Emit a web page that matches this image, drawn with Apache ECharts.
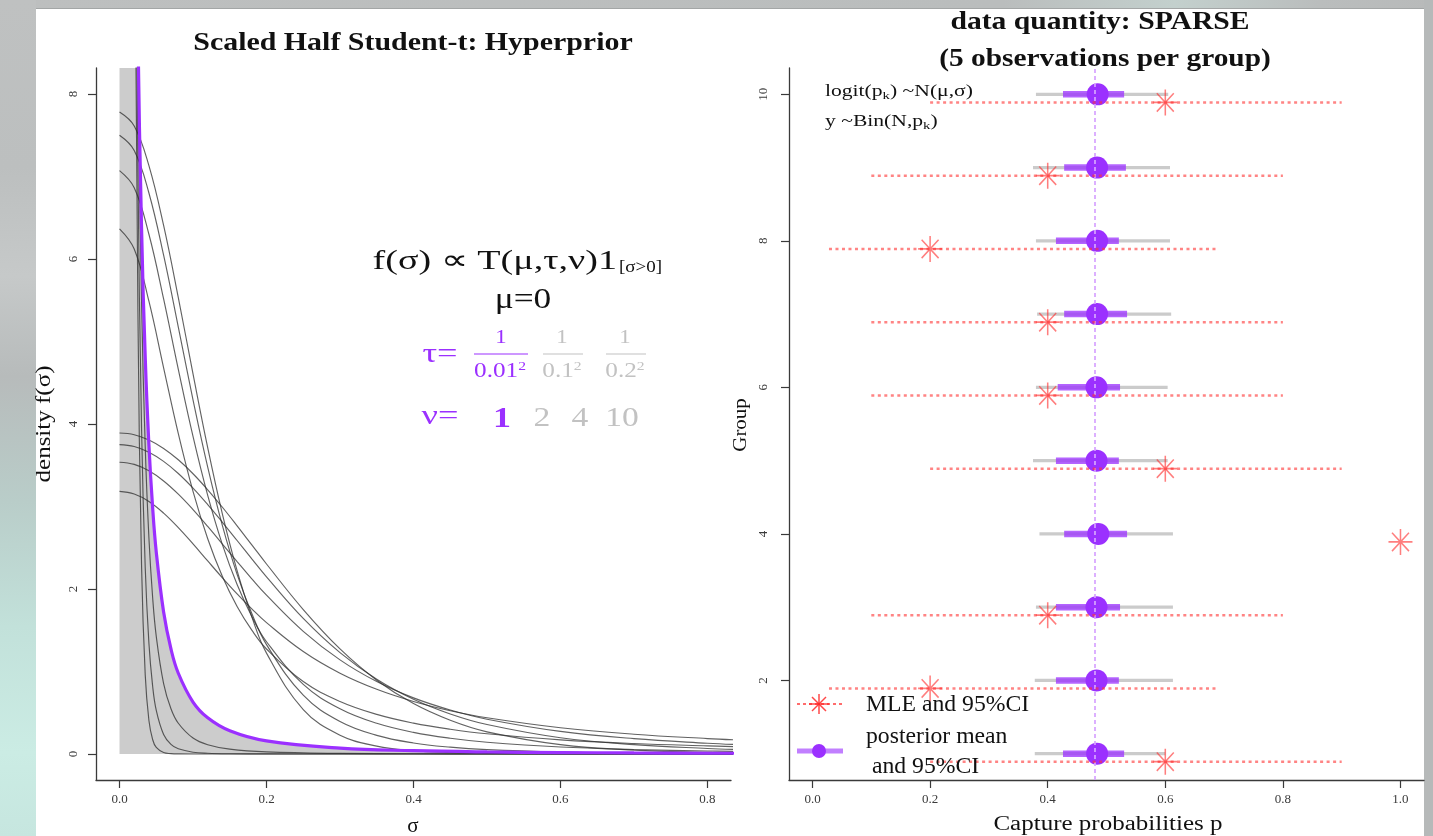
<!DOCTYPE html>
<html>
<head>
<meta charset="utf-8">
<script src="https://cdn.jsdelivr.net/npm/echarts@6/dist/echarts.min.js"></script>
<style>
html,body{margin:0;padding:0;width:1433px;height:836px;overflow:hidden;background:#b9bcbc;}
#bgTop{position:absolute;left:0;top:0;width:1433px;height:9px;background:linear-gradient(to right,#bdbfbf 0%,#babdbd 70%,#c3d0cd 82%,#babdbd 92%,#b8baba 100%);border-bottom:1px solid #a3a6a6;box-sizing:border-box;}
#bgLeft{position:absolute;left:0;top:0;width:36px;height:836px;background:linear-gradient(to bottom,#bfc1c1 0%,#bcbfbf 20%,#c6c9c9 33%,#b7bbbb 45%,#b9cdc9 60%,#c2e1da 75%,#cbece4 90%,#c6e6df 100%);}
#bgRight{position:absolute;left:1424px;top:0;width:9px;height:836px;background:#b6b9b9;}
#panel{position:absolute;left:36px;top:9px;width:1388px;height:827px;background:#ffffff;}
#chart{position:absolute;left:0;top:0;width:1433px;height:836px;}
</style>
</head>
<body>
<div id="bgTop"></div><div id="bgLeft"></div><div id="bgRight"></div><div id="panel"></div>
<div id="chart"></div>
<script>
// ---------------- LEFT PANEL DATA (half Student-t densities) ----------------
const sigmaWide = [0, 0.02, 0.04, 0.06, 0.08, 0.1, 0.12, 0.14, 0.16, 0.18, 0.2, 0.25, 0.3, 0.35, 0.4, 0.45, 0.5, 0.6, 0.7, 0.8, 0.84];
const densNu1Sd02  = [3.183, 3.151, 3.061, 2.920, 2.744, 2.546, 2.340, 2.136, 1.941, 1.759, 1.592, 1.242, 0.979, 0.784, 0.637, 0.525, 0.439, 0.318, 0.240, 0.187, 0.171];
const densNu2Sd02  = [3.536, 3.510, 3.433, 3.310, 3.150, 2.963, 2.759, 2.545, 2.332, 2.123, 1.925, 1.487, 1.141, 0.878, 0.680, 0.533, 0.422, 0.274, 0.186, 0.131, 0.115];
const densNu4Sd02  = [3.750, 3.727, 3.658, 3.547, 3.400, 3.223, 3.023, 2.809, 2.588, 2.365, 2.147, 1.644, 1.229, 0.905, 0.663, 0.485, 0.357, 0.197, 0.113, 0.067, 0.055];
const densNu10Sd02 = [3.891, 3.870, 3.806, 3.704, 3.566, 3.397, 3.203, 2.991, 2.766, 2.535, 2.303, 1.751, 1.274, 0.895, 0.611, 0.409, 0.269, 0.114, 0.048, 0.020, 0.015];
const densNu1Sd01  = [6.366, 6.121, 5.488, 4.681, 3.882, 3.183, 2.609, 2.151, 1.788, 1.501, 1.273, 0.878, 0.637, 0.480, 0.374, 0.300, 0.245, 0.172, 0.127, 0.098, 0.089];
const densNu2Sd01  = [7.071, 6.864, 6.300, 5.516, 4.662, 3.849, 3.135, 2.538, 2.054, 1.667, 1.361, 0.844, 0.548, 0.372, 0.262, 0.191, 0.143, 0.085, 0.055, 0.037, 0.032];
const densNu4Sd01  = [7.500, 7.316, 6.800, 6.046, 5.175, 4.293, 3.477, 2.768, 2.177, 1.702, 1.326, 0.713, 0.394, 0.226, 0.134, 0.083, 0.053, 0.024, 0.012, 0.006, 0.005];
const densNu10Sd01 = [7.782, 7.613, 7.132, 6.406, 5.532, 4.607, 3.713, 2.908, 2.222, 1.662, 1.223, 0.539, 0.228, 0.096, 0.041, 0.018, 0.008, 0.002, 0, 0, 0];

const sigmaNarrow = [0, 0.01, 0.015, 0.02, 0.025, 0.03, 0.035, 0.04, 0.045, 0.05, 0.06, 0.07, 0.08, 0.1, 0.12, 0.15, 0.2, 0.3, 0.4, 0.5, 0.6, 0.7, 0.84];
const densNu1Sd001  = [63.66, 31.83, 19.59, 12.73, 8.781, 6.366, 4.805, 3.745, 2.996, 2.448, 1.721, 1.273, 0.979, 0.630, 0.439, 0.282, 0.159, 0.071, 0.040, 0.025, 0.018, 0.013, 0.009];
const densNu2Sd001  = [70.71, 38.49, 22.83, 13.61, 8.440, 5.481, 3.718, 2.619, 1.906, 1.426, 0.854, 0.549, 0.373, 0.194, 0.113, 0.059, 0.025, 0.007, 0.003, 0.002, 0.001, 0.001, 0];
const densNu4Sd001  = [75.00, 42.93, 24.58, 13.26, 7.134, 3.939, 2.255, 1.342, 0.829, 0.530, 0.237, 0.117, 0.063, 0.022, 0.009, 0.003, 0.001, 0, 0, 0, 0, 0, 0];
const densNu10Sd001 = [77.82, 46.07, 25.49, 12.23, 5.389, 2.280, 0.956, 0.406, 0.177, 0.079, 0.018, 0.005, 0.001, 0, 0, 0, 0, 0, 0, 0, 0, 0, 0];

const sigmaTicks = [0, 0.2, 0.4, 0.6, 0.8];
const densityTicks = [0, 2, 4, 6, 8];

// ---------------- RIGHT PANEL DATA ----------------
const groups     = [1, 2, 3, 4, 5, 6, 7, 8, 9, 10];
const postMean   = [0.484, 0.483, 0.483, 0.486, 0.483, 0.483, 0.484, 0.484, 0.484, 0.485];
const postCiLow  = [0.426, 0.414, 0.414, 0.428, 0.414, 0.417, 0.428, 0.414, 0.428, 0.426];
const postCiHigh = [0.530, 0.521, 0.523, 0.535, 0.521, 0.523, 0.535, 0.521, 0.533, 0.530];
const outerLow   = [0.378, 0.378, 0.380, 0.386, 0.375, 0.380, 0.382, 0.380, 0.375, 0.380];
const outerHigh  = [0.600, 0.613, 0.613, 0.613, 0.604, 0.604, 0.610, 0.608, 0.608, 0.605];
const mle        = [0.6, 0.2, 0.4, 1.0, 0.6, 0.4, 0.4, 0.2, 0.4, 0.6];
const mleLow     = [0.2, 0.028, 0.1, null, 0.2, 0.1, 0.1, 0.028, 0.1, 0.2];
const mleHigh    = [0.9, 0.687, 0.8, null, 0.9, 0.8, 0.8, 0.687, 0.8, 0.9];
const grandMean  = 0.484;
const probTicks  = [0, 0.2, 0.4, 0.6, 0.8, 1.0];
const groupTicks = [2, 4, 6, 8, 10];

// ---------------- styling ----------------
const FONT = '"Liberation Serif","Times New Roman",Times,serif';
const PURPLE = '#9B30FF';
const AXIS = '#3a3a3a';
const MLE_OFFSET = 0.11;

const zip = (xs, ys) => xs.map((x, i) => [x, ys[i]]);

function axisCommon(ticks, fmt, rotate, margin) {
  return {
    type: 'value',
    axisLine: { show: true, onZero: false, lineStyle: { color: AXIS, width: 1.3 } },
    axisTick: { show: true, length: 8, customValues: ticks, lineStyle: { color: AXIS, width: 1.2 } },
    axisLabel: { customValues: ticks, formatter: fmt, rotate: rotate, margin: margin,
                 fontFamily: FONT, fontSize: 13, color: '#3a3a3a' },
    splitLine: { show: false }
  };
}

function grayCurve(xs, ys) {
  return { type: 'line', xAxisIndex: 0, yAxisIndex: 0, data: zip(xs, ys), smooth: 0.4,
           symbol: 'none', silent: true, z: 3,
           lineStyle: { color: 'rgba(45,45,45,0.75)', width: 1.15 } };
}

function T(x, y, text, o) {
  o = o || {};
  return {
    type: 'text', x: x, y: y, rotation: o.rot || 0, scaleX: o.sx || 1, z: 100, silent: true,
    style: {
      text: text, fill: o.color || '#111',
      fontSize: o.size || 18, fontFamily: FONT, fontWeight: o.bold ? 'bold' : 'normal',
      textAlign: o.align || 'center', align: o.align || 'center',
      textVerticalAlign: 'middle', verticalAlign: 'middle',
      rich: o.rich
    }
  };
}
function L(x1, y1, x2, y2, stroke, w, dash) {
  return { type: 'line', z: 100, silent: true, shape: { x1, y1, x2, y2 },
           style: { stroke: stroke, lineWidth: w, lineDash: dash || null } };
}

const starPath = 'path://M0,-10L0,10M-10,0L10,0M-7.07,-7.07L7.07,7.07M-7.07,7.07L7.07,-7.07';

const chart = echarts.init(document.getElementById('chart'), null, { renderer: 'canvas' });

const rangeSeries = (lo, hi, yShift, style, name, z) => ({
  type: 'custom', name: name, xAxisIndex: 1, yAxisIndex: 1, z: z, silent: true,
  data: groups.map((g, i) => [lo[i], hi[i], g + yShift]).filter(d => d[0] != null),
  encode: { x: [0, 1], y: 2 },
  renderItem: (params, api) => {
    const a = api.coord([api.value(0), api.value(2)]);
    const b = api.coord([api.value(1), api.value(2)]);
    return { type: 'line', shape: { x1: a[0], y1: a[1], x2: b[0], y2: b[1] }, style: style };
  }
});

const GREYTXT = '#c2c2c2';
const subRich = (size) => ({
  a: { fontSize: size, fontFamily: FONT, fill: '#111' },
  k: { fontSize: Math.round(size * 0.68), fontFamily: FONT, fill: '#111', verticalAlign: 'bottom', padding: [8, 0, 0, 0] }
});
const supRich = (size, color) => ({
  a: { fontSize: size, fontFamily: FONT, fill: color },
  s: { fontSize: Math.round(size * 0.6), fontFamily: FONT, fill: color, verticalAlign: 'top', padding: [0, 0, 8, 0] }
});

const option = {
  animation: false,
  backgroundColor: 'transparent',
  grid: [
    { left: 96, top: 68, width: 635, height: 712 },
    { left: 789, top: 68, width: 635, height: 712 }
  ],
  xAxis: [
    Object.assign(axisCommon(sigmaTicks, v => v.toFixed(1), 0, 13), { gridIndex: 0, min: -0.032, max: 0.832 }),
    Object.assign(axisCommon(probTicks, v => v.toFixed(1), 0, 13), { gridIndex: 1, min: -0.04, max: 1.04 })
  ],
  yAxis: [
    Object.assign(axisCommon(densityTicks, v => String(v), 90, 16), { gridIndex: 0, min: -0.315, max: 8.315 }),
    Object.assign(axisCommon(groupTicks, v => String(v), 90, 19), { gridIndex: 1, min: 0.64, max: 10.36 })
  ],
  series: [
    // grey area under the tau=1/0.01^2, nu=1 density
    { type: 'line', xAxisIndex: 0, yAxisIndex: 0, data: zip(sigmaNarrow, densNu1Sd001), smooth: 0.4,
      symbol: 'none', silent: true, z: 1, lineStyle: { width: 0, color: '#cccccc' },
      areaStyle: { color: '#cccccc', opacity: 1 } },
    grayCurve(sigmaWide, densNu1Sd02), grayCurve(sigmaWide, densNu2Sd02),
    grayCurve(sigmaWide, densNu4Sd02), grayCurve(sigmaWide, densNu10Sd02),
    grayCurve(sigmaWide, densNu1Sd01), grayCurve(sigmaWide, densNu2Sd01),
    grayCurve(sigmaWide, densNu4Sd01), grayCurve(sigmaWide, densNu10Sd01),
    grayCurve(sigmaNarrow, densNu2Sd001), grayCurve(sigmaNarrow, densNu4Sd001),
    grayCurve(sigmaNarrow, densNu10Sd001),
    { type: 'line', xAxisIndex: 0, yAxisIndex: 0, data: zip(sigmaNarrow, densNu1Sd001), smooth: 0.4,
      symbol: 'none', silent: true, z: 5, lineStyle: { color: PURPLE, width: 3.2 } },

    // right panel
    { type: 'scatter', xAxisIndex: 1, yAxisIndex: 1, data: [], silent: true, z: 1,
      markLine: { silent: true, symbol: 'none', label: { show: false },
                  lineStyle: { color: '#d6a3ff', width: 1.7, type: [4, 3] },
                  data: [{ xAxis: grandMean }] } },
    rangeSeries(outerLow, outerHigh, 0, { stroke: '#cbcbcb', lineWidth: 3.2 }, 'outer', 2),
    rangeSeries(postCiLow, postCiHigh, 0, { stroke: 'rgba(155,48,255,0.75)', lineWidth: 6.5 }, 'post', 3),
    { type: 'scatter', xAxisIndex: 1, yAxisIndex: 1, z: 4, silent: true,
      data: zip(postMean, groups), symbol: 'circle', symbolSize: 22,
      itemStyle: { color: PURPLE, opacity: 1 } },
    rangeSeries(mleLow, mleHigh, -MLE_OFFSET,
      { stroke: 'rgba(255,50,50,0.6)', lineWidth: 2.4, lineDash: [3, 3.5] }, 'mleci', 5),
    { type: 'scatter', xAxisIndex: 1, yAxisIndex: 1, z: 6, silent: true,
      data: groups.map((g, i) => [mle[i], g - MLE_OFFSET]), symbol: starPath, symbolSize: [24, 26],
      itemStyle: { color: 'rgba(0,0,0,0)', borderColor: 'rgba(255,40,40,0.75)', borderWidth: 1.6 } }
  ],
  graphic: [
    // titles
    T(413, 43, 'Scaled Half Student-t: Hyperprior', { size: 26, bold: true, sx: 1.15 }),
    T(1100, 22, 'data quantity: SPARSE', { size: 26, bold: true, sx: 1.14 }),
    T(1105, 59, '(5 observations per group)', { size: 26, bold: true, sx: 1.13 }),
    // axis titles
    T(413, 826, 'σ', { size: 21 }),
    T(45, 424, 'density f(σ)', { size: 20, rot: Math.PI / 2, sx: 1.25 }),
    T(1108, 825, 'Capture probabilities p', { size: 20, sx: 1.25 }),
    T(741, 425, 'Group', { size: 19, rot: Math.PI / 2, sx: 1.1 }),
    // formula annotation
    T(617, 262, 'f(σ) ∝ T(μ,τ,ν)1', { size: 28, align: 'right', sx: 1.36 }),
    T(619, 268, '[σ>0]', { size: 17, align: 'left', sx: 1.12 }),
    T(523, 300, 'μ=0', { size: 29, sx: 1.22 }),
    T(440, 355, 'τ=', { size: 28, color: PURPLE, sx: 1.3 }),
    T(501, 338, '1', { size: 19, color: PURPLE, sx: 1.2 }),
    L(474, 354, 528, 354, PURPLE, 1.2),
    T(500, 371, '{a|0.01}{s|2}', { size: 21, color: PURPLE, sx: 1.2, rich: supRich(21, PURPLE) }),
    T(562, 338, '1', { size: 19, color: GREYTXT, sx: 1.2 }),
    L(543, 354, 583, 354, GREYTXT, 1.2),
    T(562, 371, '{a|0.1}{s|2}', { size: 21, color: GREYTXT, sx: 1.2, rich: supRich(21, GREYTXT) }),
    T(625, 338, '1', { size: 19, color: GREYTXT, sx: 1.2 }),
    L(606, 354, 646, 354, GREYTXT, 1.2),
    T(625, 371, '{a|0.2}{s|2}', { size: 21, color: GREYTXT, sx: 1.2, rich: supRich(21, GREYTXT) }),
    T(440, 417, 'ν=', { size: 28, color: PURPLE, sx: 1.3 }),
    T(502, 419, '1', { size: 30, color: PURPLE, bold: true, sx: 1.2 }),
    T(542, 419, '2', { size: 28, color: GREYTXT, sx: 1.2 }),
    T(580, 419, '4', { size: 28, color: GREYTXT, sx: 1.2 }),
    T(622, 419, '10', { size: 28, color: GREYTXT, sx: 1.2 }),
    // model text
    T(825, 92, '{a|logit(p}{k|k}{a|) ~N(μ,σ)}', { align: 'left', sx: 1.35, rich: subRich(16) }),
    T(825, 122, '{a|y ~Bin(N,p}{k|k}{a|)}', { align: 'left', sx: 1.35, rich: subRich(16) }),
    // legend
    L(797, 704, 843, 704, 'rgba(255,45,45,0.7)', 2.2, [3, 3]),
    L(819, 694, 819, 714, 'rgba(255,40,40,0.85)', 1.5),
    L(809, 704, 829, 704, 'rgba(255,40,40,0.85)', 1.5),
    L(812, 697, 826, 711, 'rgba(255,40,40,0.85)', 1.5),
    L(812, 711, 826, 697, 'rgba(255,40,40,0.85)', 1.5),
    T(866, 705, 'MLE and 95%CI', { size: 23, align: 'left', sx: 1.03 }),
    L(797, 751, 843, 751, 'rgba(155,48,255,0.62)', 5),
    { type: 'circle', z: 101, silent: true, shape: { cx: 819, cy: 751, r: 7 }, style: { fill: PURPLE } },
    T(866, 737, 'posterior mean', { size: 23, align: 'left', sx: 1.03 }),
    T(866, 767, ' and 95%CI', { size: 23, align: 'left', sx: 1.03 })
  ]
};
chart.setOption(option);
</script>
</body>
</html>
